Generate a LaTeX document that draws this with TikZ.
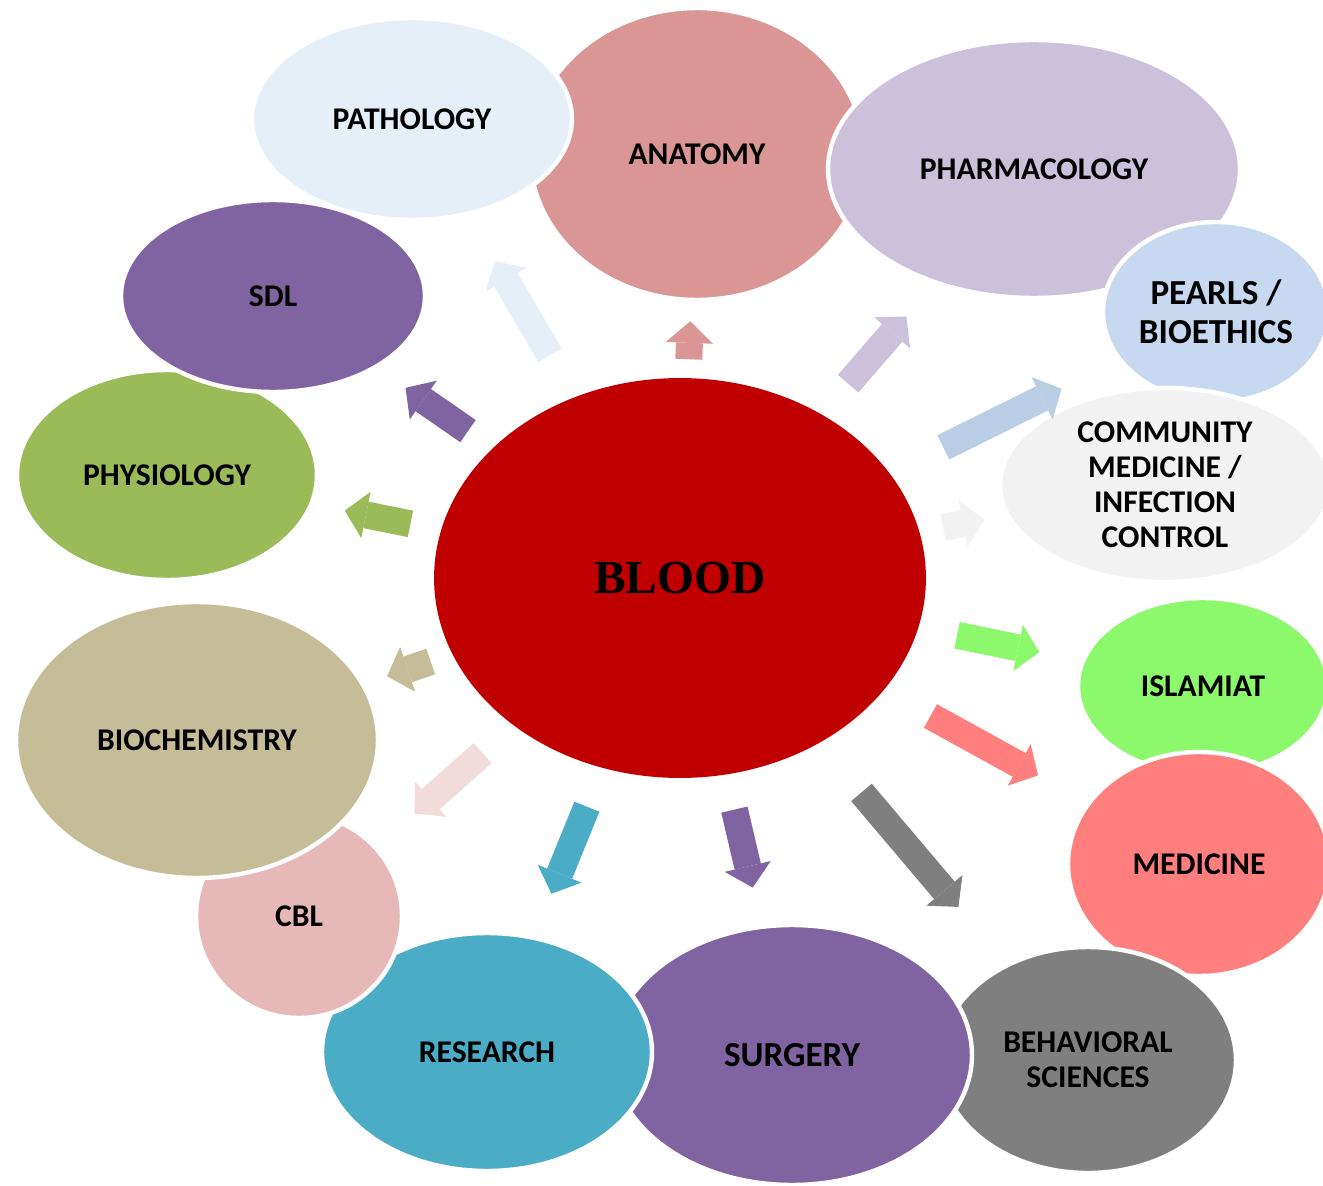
\documentclass[tikz,border=0pt]{standalone}
\usepackage{fontspec}
\setmainfont{Carlito}
\newfontfamily\bloodfont{Liberation Serif}
\usetikzlibrary{shapes.geometric,calc,arrows.meta}
\definecolor{bloodc}{HTML}{C00000}
\definecolor{pathoc}{HTML}{E6EEF8}
\definecolor{anatc}{HTML}{D99694}
\definecolor{pharmc}{HTML}{CCC1DA}
\definecolor{pearlc}{HTML}{C6D9F1}
\definecolor{pearlarr}{HTML}{B9CDE5}
\definecolor{communc}{HTML}{F2F2F2}
\definecolor{islamc}{HTML}{8CF86C}
\definecolor{medicc}{HTML}{FF7F7F}
\definecolor{behavc}{HTML}{7F7F7F}
\definecolor{purpc}{HTML}{8064A2}
\definecolor{researc}{HTML}{4BACC6}
\definecolor{cblc}{HTML}{E6B9B8}
\definecolor{cblarr}{HTML}{F2DCDB}
\definecolor{biochc}{HTML}{C4BD97}
\definecolor{physioc}{HTML}{9BBB59}
\tikzset{bub/.style={
            ellipse,
            draw=white,
            line width=2.5pt,
            inner sep=0pt,
            align=center,
            font=\fontsize{18}{20}\selectfont\bfseries
        },
        bigbub/.style={
            bub,
            font=\fontsize{20}{22}\selectfont\bfseries
        },
        blk/.style={
            line width=0.54cm,
            draw=#1,
            -{Triangle[width=0pt 1.75,length=0pt 0.8,line width=0pt]}
        }
    }
\begin{document}
\begin{tikzpicture}[x=0.02cm,y=-0.02cm]
        \fill[white] (0,0) rectangle (1323,1186);
        \useasboundingbox (0,0) rectangle (1323,1186);
        % centre
        \node[ellipse,fill=bloodc,minimum width=9.84cm,minimum height=8cm,font=\fontsize{27}{30}\selectfont\bloodfont\bfseries] (blood) at (680,578) {BLOOD};
        % outer ring, clockwise
        \node[bub,fill=anatc,minimum width=6.68cm,minimum height=5.84cm] (anat) at (697,154) {ANATOMY};
        \node[bub,fill=pharmc,minimum width=8.24cm,minimum height=5.16cm] (pharm) at (1034,169) {PHARMACOLOGY};
        \node[bigbub,fill=pearlc,minimum width=4.52cm,minimum height=3.6cm] (pearl) at (1216,312) {PEARLS /\\BIOETHICS};
        \node[bub,fill=communc,minimum width=6.6cm,minimum height=3.88cm] (commun) at (1165,485) {COMMUNITY\\MEDICINE /\\INFECTION\\CONTROL};
        \node[bub,fill=islamc,minimum width=5cm,minimum height=3.52cm] (islam) at (1203,686) {ISLAMIAT};
        \node[bub,fill=medicc,minimum width=5.24cm,minimum height=4.48cm] (medic) at (1199,864) {MEDICINE};
        \node[bub,fill=behavc,minimum width=5.92cm,minimum height=4.52cm] (behav) at (1088,1060) {BEHAVIORAL\\SCIENCES};
        \node[bigbub,fill=purpc,minimum width=7.2cm,minimum height=5.2cm] (surg) at (792,1055) {SURGERY};
        \node[bub,fill=researc,minimum width=6.6cm,minimum height=4.76cm] (resea) at (487,1052) {RESEARCH};
        \node[bub,fill=cblc,minimum width=4.12cm,minimum height=4.08cm] (cbl) at (299,916) {CBL};
        \node[bub,fill=biochc,minimum width=7.24cm,minimum height=5.52cm] (bioch) at (197,740) {BIOCHEMISTRY};
        \node[bub,fill=physioc,minimum width=6cm,minimum height=4.2cm] (physio) at (167,475) {PHYSIOLOGY};
        \node[bub,fill=purpc,minimum width=6.08cm,minimum height=3.84cm] (sdl) at (273,296) {SDL};
        \node[bub,fill=pathoc,minimum width=6.4cm,minimum height=4.04cm] (patho) at (412,119) {PATHOLOGY};
        % block arrows out of the centre
        \foreach \n/\c/\a/\b in {anat/anatc/4.38/5.14, pharm/pharmc/5.14/6.92, pearl/pearlarr/5.88/8.52,
            commun/communc/5.36/6.2, islam/islamc/5.66/7.34, medic/medicc/5.72/8.18,
            behav/behavc/5.62/8.62, surg/purpc/4.76/6.36, resea/researc/4.94/6.82,
            cbl/cblarr/5.28/7.1, bioch/biochc/5.26/6.18, physio/physioc/5.5/6.84,
            sdl/purpc/5.16/6.68, patho/pathoc/5.16/7.34}
            \draw[blk=\c] ($(blood.center)!\a cm!(\n.center)$) -- ($(blood.center)!\b cm!(\n.center)$);
    \end{tikzpicture}
\end{document}
